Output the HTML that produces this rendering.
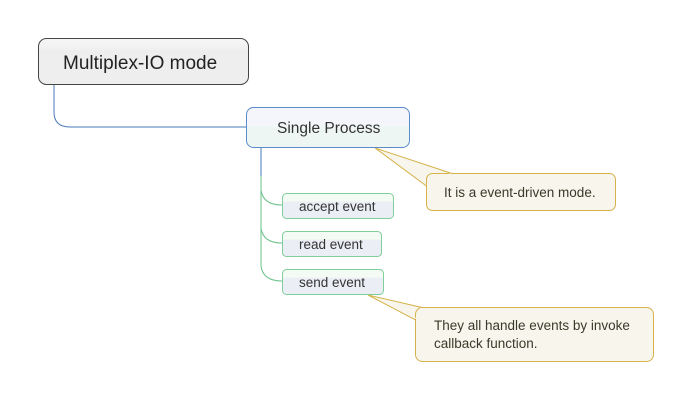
<!DOCTYPE html>
<html><head><style>
html,body{margin:0;padding:0;background:#fff;}
svg{display:block;}
text{font-family:"Liberation Sans","DejaVu Sans",sans-serif;}
</style></head><body>
<svg width="692" height="400" viewBox="0 0 692 400" xmlns="http://www.w3.org/2000/svg">
<defs>
<linearGradient id="g1" x1="0" y1="0" x2="0" y2="1"><stop offset="0" stop-color="#f7f7f7"/><stop offset="0.3" stop-color="#eeeeee"/><stop offset="1" stop-color="#eeeeee"/></linearGradient>
<linearGradient id="g2" x1="0" y1="0" x2="0" y2="1"><stop offset="0" stop-color="#f4f6fc"/><stop offset="0.45" stop-color="#f4f6fc"/><stop offset="0.5" stop-color="#eef6f4"/><stop offset="1" stop-color="#eef6f4"/></linearGradient>
<linearGradient id="g3" x1="0" y1="0" x2="0" y2="1"><stop offset="0" stop-color="#f4fbf4"/><stop offset="0.3" stop-color="#f4fbf4"/><stop offset="0.35" stop-color="#eceef5"/><stop offset="1" stop-color="#eceef5"/></linearGradient>
</defs>
<path d="M54 85 V112 Q54 127 70 127 H246" fill="none" stroke="#4a79b8" stroke-width="1"/>
<path d="M261 147 V176" fill="none" stroke="#4a79b8" stroke-width="1"/>
<path d="M261 176 V190 Q263 205 282 205" fill="none" stroke="#6cc28a" stroke-width="1"/>
<path d="M261 190 V228 Q263 243 282 243" fill="none" stroke="#6cc28a" stroke-width="1"/>
<path d="M261 228 V266 Q263 281 282 281" fill="none" stroke="#6cc28a" stroke-width="1"/>
<path d="M375 148 L452 173.5 L426.5 186 Z" fill="#f7f5ec" stroke="#d6b24a" stroke-width="1"/>
<path d="M368 295 L422 307.5 L415.5 320 Z" fill="#f7f5ec" stroke="#d6b24a" stroke-width="1"/>
<rect x="38.5" y="38.5" width="210" height="46" rx="8" fill="url(#g1)" stroke="#444" stroke-width="1"/>
<text x="63" y="69" font-size="19" fill="#222">Multiplex-IO mode</text>
<rect x="246.5" y="107.5" width="163" height="40" rx="7" fill="url(#g2)" stroke="#5b8bc8" stroke-width="1"/>
<text x="277" y="133" font-size="15.5" fill="#333">Single Process</text>
<rect x="282.5" y="193.5" width="111" height="25" rx="4" fill="url(#g3)" stroke="#7fcf9a" stroke-width="1"/>
<text x="299" y="211" font-size="13.5" fill="#333">accept event</text>
<rect x="282.5" y="231.5" width="99" height="25" rx="4" fill="url(#g3)" stroke="#7fcf9a" stroke-width="1"/>
<text x="299" y="249" font-size="13.5" fill="#333">read event</text>
<rect x="282.5" y="269.5" width="101" height="25" rx="4" fill="url(#g3)" stroke="#7fcf9a" stroke-width="1"/>
<text x="299" y="287" font-size="13.5" fill="#333">send event</text>
<rect x="426.5" y="173.5" width="189" height="37" rx="6" fill="#f7f5ec" stroke="#d6b24a" stroke-width="1"/>
<text x="444" y="197" font-size="13.5" fill="#3a3a2a">It is a event-driven mode.</text>
<rect x="415.5" y="307.5" width="238" height="54" rx="7" fill="#f7f5ec" stroke="#d6b24a" stroke-width="1"/>
<text x="434" y="330" font-size="13.5" fill="#3a3a2a">They all handle events by invoke</text>
<text x="434" y="348" font-size="13.5" fill="#3a3a2a">callback function.</text>
<path d="M427 185 L451 174" stroke="#f7f5ec" stroke-width="2"/>
<path d="M416 319 L421 308" stroke="#f7f5ec" stroke-width="2"/>
</svg>
</body></html>
